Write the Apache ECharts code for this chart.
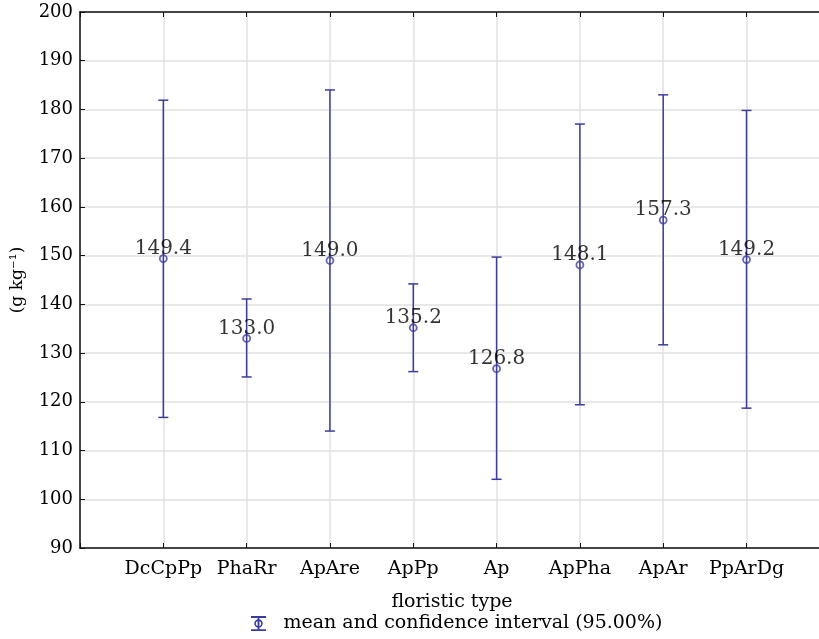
<!DOCTYPE html>
<html>
<head>
<meta charset="utf-8">
<script src="https://cdn.jsdelivr.net/npm/echarts@6/dist/echarts.min.js"></script>
<style>
  html, body { margin: 0; padding: 0; background: #fff; }
  #chart { width: 819px; height: 639px; }
</style>
</head>
<body>
<div id="chart"></div>
<script>
  // floristic types
  var categories = ['DcCpPp', 'PhaRr', 'ApAre', 'ApPp', 'Ap', 'ApPha', 'ApAr', 'PpArDg']
  // mean values
  var means = [149.4, 133.0, 149.0, 135.2, 126.8, 148.1, 157.3, 149.2]
  // 95% confidence interval bounds
  var lower = [116.8, 125.1, 114.0, 126.2, 104.1, 119.4, 131.7, 118.7]
  var upper = [181.9, 141.1, 184.0, 144.2, 149.7, 177.0, 183.0, 179.8]
  var seriesName = 'mean and confidence interval (95.00%)'

  var barColor = '#3c3ca0'
  var font = 'DejaVu Serif'

  var ciData = categories.map(function (c, i) {
    return [i + 1, lower[i], upper[i]]
  })
  var meanData = categories.map(function (c, i) {
    return [i + 1, means[i]]
  })

  // legend icon: cap, stem, ring, cap
  var legendIcon = 'path://M0,0H16V2H0Z M7,2H9V14H7Z M0,14H16V16H0Z ' +
    'M12.5,8A4.5,4.5 0 1,1 3.5,8A4.5,4.5 0 1,1 12.5,8Z ' +
    'M10.8,8A2.8,2.8 0 1,0 5.2,8A2.8,2.8 0 1,0 10.8,8Z'

  var chart = echarts.init(document.getElementById('chart'))
  // plot runs past the right edge of the picture
  var xCommon = {
    type: 'value',
    min: 0,
    max: 8.93,
    interval: 1
  }
  chart.setOption({
    animation: false,
    textStyle: { fontFamily: font },
    grid: { left: 80, right: -5, top: 12, bottom: 91, outerBoundsMode: 'none', containLabel: false },
    legend: {
      left: 246,
      top: 609,
      itemWidth: 16,
      itemHeight: 15,
      itemGap: 0,
      icon: legendIcon,
      data: [{ name: seriesName, icon: legendIcon }],
      textStyle: { fontFamily: font, fontSize: 19, color: '#000', padding: [0, 0, 0, 12] }
    },
    xAxis: [
      Object.assign({}, xCommon, {
        position: 'bottom',
        name: 'floristic type',
        nameLocation: 'middle',
        nameGap: 45,
        nameTextStyle: { fontFamily: font, fontSize: 19, color: '#000' },
        axisLine: { lineStyle: { color: '#111', width: 1.5 } },
        axisTick: { inside: true, length: 5, lineStyle: { color: '#111' } },
        axisLabel: {
          margin: 12,
          fontFamily: font,
          fontSize: 19,
          color: '#000',
          formatter: function (v) {
            return (v >= 1 && v <= 8 && v % 1 === 0) ? categories[v - 1] : ''
          }
        },
        splitLine: { show: true, lineStyle: { color: '#e0e0e0', width: 1.5 } }
      }),
      Object.assign({}, xCommon, {
        position: 'top',
        axisLine: { lineStyle: { color: '#111', width: 1.5 } },
        axisTick: { inside: true, length: 5, lineStyle: { color: '#111' } },
        axisLabel: { show: false },
        splitLine: { show: false }
      })
    ],
    yAxis: {
      type: 'value',
      min: 90,
      max: 200,
      interval: 10,
      name: '(g kg⁻¹)',
      nameLocation: 'middle',
      nameGap: 54,
      nameTextStyle: { fontFamily: font, fontSize: 17, color: '#000' },
      axisLine: { show: true, lineStyle: { color: '#111', width: 1.5 } },
      axisTick: { show: true, inside: true, length: 5, lineStyle: { color: '#111' } },
      axisLabel: { margin: 7, fontFamily: font, fontSize: 18, color: '#000' },
      splitLine: { lineStyle: { color: '#e0e0e0', width: 1.5 } }
    },
    series: [
      {
        name: seriesName,
        type: 'custom',
        itemStyle: { color: barColor },
        data: ciData,
        z: 3,
        renderItem: function (params, api) {
          var x = api.value(0)
          var lo = api.coord([x, api.value(1)])
          var hi = api.coord([x, api.value(2)])
          var half = 5
          var style = { stroke: barColor, lineWidth: 1.5 }
          return {
            type: 'group',
            children: [
              { type: 'line', shape: { x1: lo[0], y1: lo[1], x2: hi[0], y2: hi[1] }, style: style },
              { type: 'line', shape: { x1: hi[0] - half, y1: hi[1], x2: hi[0] + half, y2: hi[1] }, style: style },
              { type: 'line', shape: { x1: lo[0] - half, y1: lo[1], x2: lo[0] + half, y2: lo[1] }, style: style }
            ]
          }
        }
      },
      {
        name: 'mean',
        type: 'scatter',
        symbol: 'circle',
        symbolSize: 7,
        z: 4,
        itemStyle: { color: 'rgba(255,255,255,0)', borderColor: barColor, borderWidth: 1.8 },
        label: {
          show: true,
          position: 'inside',
          offset: [0, -10],
          fontFamily: font,
          fontSize: 20,
          color: '#000',
          textBorderWidth: 0,
          formatter: function (p) { return p.value[1].toFixed(1) }
        },
        data: meanData
      }
    ]
  })
</script>
</body>
</html>
